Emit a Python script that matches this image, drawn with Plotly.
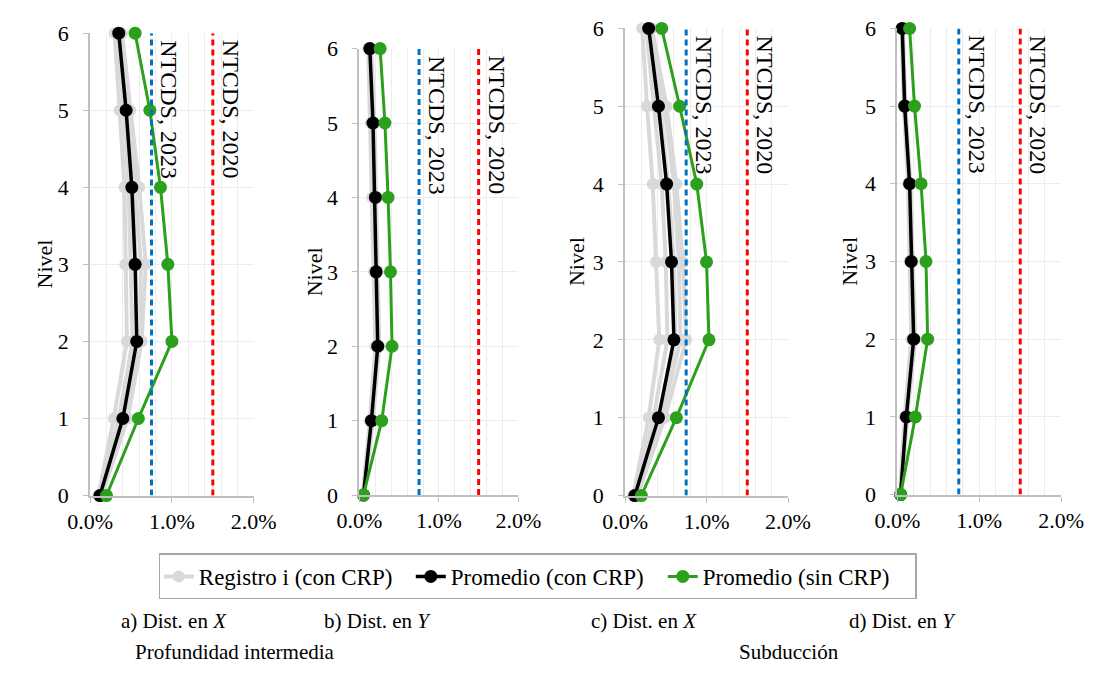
import plotly.graph_objects as go

# Story levels (vertical axis) and drift axis ticks
levels = [0, 1, 2, 3, 4, 5, 6]
x_tick_values = [0, 1, 2]
x_tick_text = ["0.0%", "1.0%", "2.0%"]
y_tick_values = [0, 1, 2, 3, 4, 5, 6]

# Code drift limits (%)
limit_ntcds_2023 = 0.75
limit_ntcds_2020 = 1.5

# a) Profundidad intermedia, dirección X  (drift in %)
a_registros = [
    [0.10, 0.29, 0.45, 0.43, 0.42, 0.36, 0.30],
    [0.11, 0.35, 0.52, 0.50, 0.47, 0.41, 0.33],
    [0.12, 0.41, 0.58, 0.56, 0.53, 0.45, 0.36],
    [0.14, 0.46, 0.63, 0.68, 0.60, 0.49, 0.39],
    [0.13, 0.44, 0.61, 0.62, 0.55, 0.47, 0.37],
]
a_prom_con = [0.12, 0.40, 0.57, 0.55, 0.51, 0.44, 0.35]
a_prom_sin = [0.20, 0.59, 1.00, 0.95, 0.86, 0.73, 0.55]

# b) Profundidad intermedia, dirección Y
b_registros = [
    [0.04, 0.13, 0.20, 0.18, 0.16, 0.14, 0.11],
    [0.05, 0.15, 0.22, 0.21, 0.19, 0.16, 0.13],
    [0.05, 0.16, 0.24, 0.22, 0.21, 0.18, 0.14],
    [0.06, 0.17, 0.25, 0.23, 0.22, 0.19, 0.15],
]
b_prom_con = [0.05, 0.15, 0.23, 0.21, 0.20, 0.17, 0.13]
b_prom_sin = [0.05, 0.28, 0.41, 0.39, 0.36, 0.32, 0.26]

# c) Subducción, dirección X
c_registros = [
    [0.10, 0.29, 0.42, 0.38, 0.34, 0.27, 0.21],
    [0.12, 0.35, 0.52, 0.50, 0.45, 0.36, 0.26],
    [0.13, 0.42, 0.62, 0.60, 0.53, 0.43, 0.30],
    [0.15, 0.49, 0.75, 0.71, 0.63, 0.51, 0.33],
    [0.14, 0.45, 0.68, 0.66, 0.60, 0.48, 0.32],
]
c_prom_con = [0.12, 0.41, 0.60, 0.57, 0.51, 0.41, 0.29]
c_prom_sin = [0.20, 0.63, 1.03, 1.00, 0.88, 0.67, 0.45]

# d) Subducción, dirección Y
d_registros = [
    [0.03, 0.09, 0.17, 0.15, 0.13, 0.08, 0.05],
    [0.04, 0.11, 0.20, 0.17, 0.15, 0.09, 0.06],
    [0.05, 0.12, 0.22, 0.19, 0.16, 0.10, 0.07],
]
d_prom_con = [0.04, 0.11, 0.20, 0.17, 0.15, 0.09, 0.06]
d_prom_sin = [0.04, 0.22, 0.37, 0.35, 0.29, 0.21, 0.15]

panel_captions = ["a) Dist. en <i>X</i>", "b) Dist. en <i>Y</i>",
                  "c) Dist. en <i>X</i>", "d) Dist. en <i>Y</i>"]
group_captions = ["Profundidad intermedia", "Subducción"]

# ---------------------------------------------------------------------------
W, H = 1113, 680
FONT = "Liberation Serif"
FS = 22
GREY, BLACK, GREEN = "#d9d9d9", "#000000", "#2ca01c"
BLUE, RED = "#0070c0", "#ff0000"

# plot-area boxes in pixels: left, right, top, bottom
boxes = [
    (70, 240.7, 22, 502),
    (351, 516.7, 38, 501.5),
    (628, 798, 17, 502),
    (912, 1083, 17, 501),
]
nivel_x = [22, 304, 578, 862]
caption_x = [100, 312, 590, 860]
group_x = [115, 745]

panels = [
    (a_registros, a_prom_con, a_prom_sin),
    (b_registros, b_prom_con, b_prom_sin),
    (c_registros, c_prom_con, c_prom_sin),
    (d_registros, d_prom_con, d_prom_sin),
]

fig = go.Figure()
annotations = []

for i, (registros, prom_con, prom_sin) in enumerate(panels):
    n = "" if i == 0 else str(i + 1)
    xa, ya = "x" + n, "y" + n
    first = i == 0

    for k, reg in enumerate(registros):
        fig.add_trace(go.Scatter(
            x=reg, y=levels, xaxis=xa, yaxis=ya, mode="lines+markers",
            name="Registro i (con CRP)", legendgroup="reg",
            showlegend=first and k == 0,
            line=dict(color=GREY, width=4), marker=dict(color=GREY, size=12),
            cliponaxis=False))
    fig.add_trace(go.Scatter(
        x=prom_con, y=levels, xaxis=xa, yaxis=ya, mode="lines+markers",
        name="Promedio (con CRP)", legendgroup="con", showlegend=first,
        line=dict(color=BLACK, width=3.5), marker=dict(color=BLACK, size=13),
        cliponaxis=False))
    fig.add_trace(go.Scatter(
        x=prom_sin, y=levels, xaxis=xa, yaxis=ya, mode="lines+markers",
        name="Promedio (sin CRP)", legendgroup="sin", showlegend=first,
        line=dict(color=GREEN, width=3), marker=dict(color=GREEN, size=13),
        cliponaxis=False))

    for lim, col, lbl in [(limit_ntcds_2023, BLUE, "NTCDS, 2023"),
                          (limit_ntcds_2020, RED, "NTCDS, 2020")]:
        fig.add_trace(go.Scatter(
            x=[lim, lim], y=[levels[0], levels[-1]], xaxis=xa, yaxis=ya,
            mode="lines", showlegend=False, hoverinfo="skip",
            line=dict(color=col, width=3, dash="6px,4px")))
        annotations.append(dict(
            x=lim, xref=xa, y=1, yref=ya + " domain", xshift=18, yshift=-5,
            text=lbl, textangle=90, showarrow=False,
            xanchor="center", yanchor="top",
            font=dict(family=FONT, size=24, color="black")))

    left, right, top, bottom = boxes[i]
    fig.update_layout(**{
        "xaxis" + n: dict(
            domain=[left / W, right / W], anchor=ya, range=[0, 2],
            tickvals=x_tick_values, ticktext=x_tick_text,
            ticks="outside", ticklen=5, tickcolor="#bfbfbf",
            showline=True, linecolor="#bfbfbf", linewidth=2,
            showgrid=True, gridcolor="#ececec", gridwidth=1, zeroline=False,
            minor=dict(dtick=0.2, showgrid=True, gridcolor="#ececec", gridwidth=1),
            tickfont=dict(family=FONT, size=FS, color="black"),
            fixedrange=True),
        "yaxis" + n: dict(
            domain=[1 - bottom / H, 1 - top / H], anchor=xa, range=[0, 6],
            tickvals=y_tick_values,
            ticks="outside", ticklen=5, tickcolor="#bfbfbf",
            ticklabelstandoff=10,
            showline=True, linecolor="#bfbfbf", linewidth=2,
            showgrid=True, gridcolor="#ececec", gridwidth=1, zeroline=False,
            tickfont=dict(family=FONT, size=FS, color="black"),
            fixedrange=True),
    })

    annotations.append(dict(
        x=nivel_x[i] / W, y=1 - (top + bottom) / 2 / H, xref="paper", yref="paper",
        text="Nivel", textangle=-90, showarrow=False,
        xanchor="center", yanchor="middle",
        font=dict(family=FONT, size=FS, color="black")))
    annotations.append(dict(
        x=caption_x[i] / W, y=1 - 632 / H, xref="paper", yref="paper",
        text=panel_captions[i], showarrow=False, xanchor="left", yanchor="middle",
        font=dict(family=FONT, size=21, color="black")))

for gx, gtxt in zip(group_x, group_captions):
    annotations.append(dict(
        x=gx / W, y=1 - 664 / H, xref="paper", yref="paper",
        text=gtxt, showarrow=False, xanchor="left", yanchor="middle",
        font=dict(family=FONT, size=21, color="black")))

fig.update_layout(
    width=W, height=H,
    margin=dict(l=0, r=0, t=0, b=0),
    paper_bgcolor="white", plot_bgcolor="white",
    font=dict(family=FONT, size=FS, color="black"),
    annotations=annotations,
    showlegend=True,
    legend=dict(
        orientation="h", x=537 / W, xanchor="center", y=1 - 586 / H, yanchor="middle",
        bordercolor="#a6a6a6", borderwidth=1.5, bgcolor="white",
        font=dict(family=FONT, size=23, color="black"),
        itemwidth=30, tracegroupgap=0,
        entrywidth=207, entrywidthmode="pixels"),
)

fig.write_html("out.html")
